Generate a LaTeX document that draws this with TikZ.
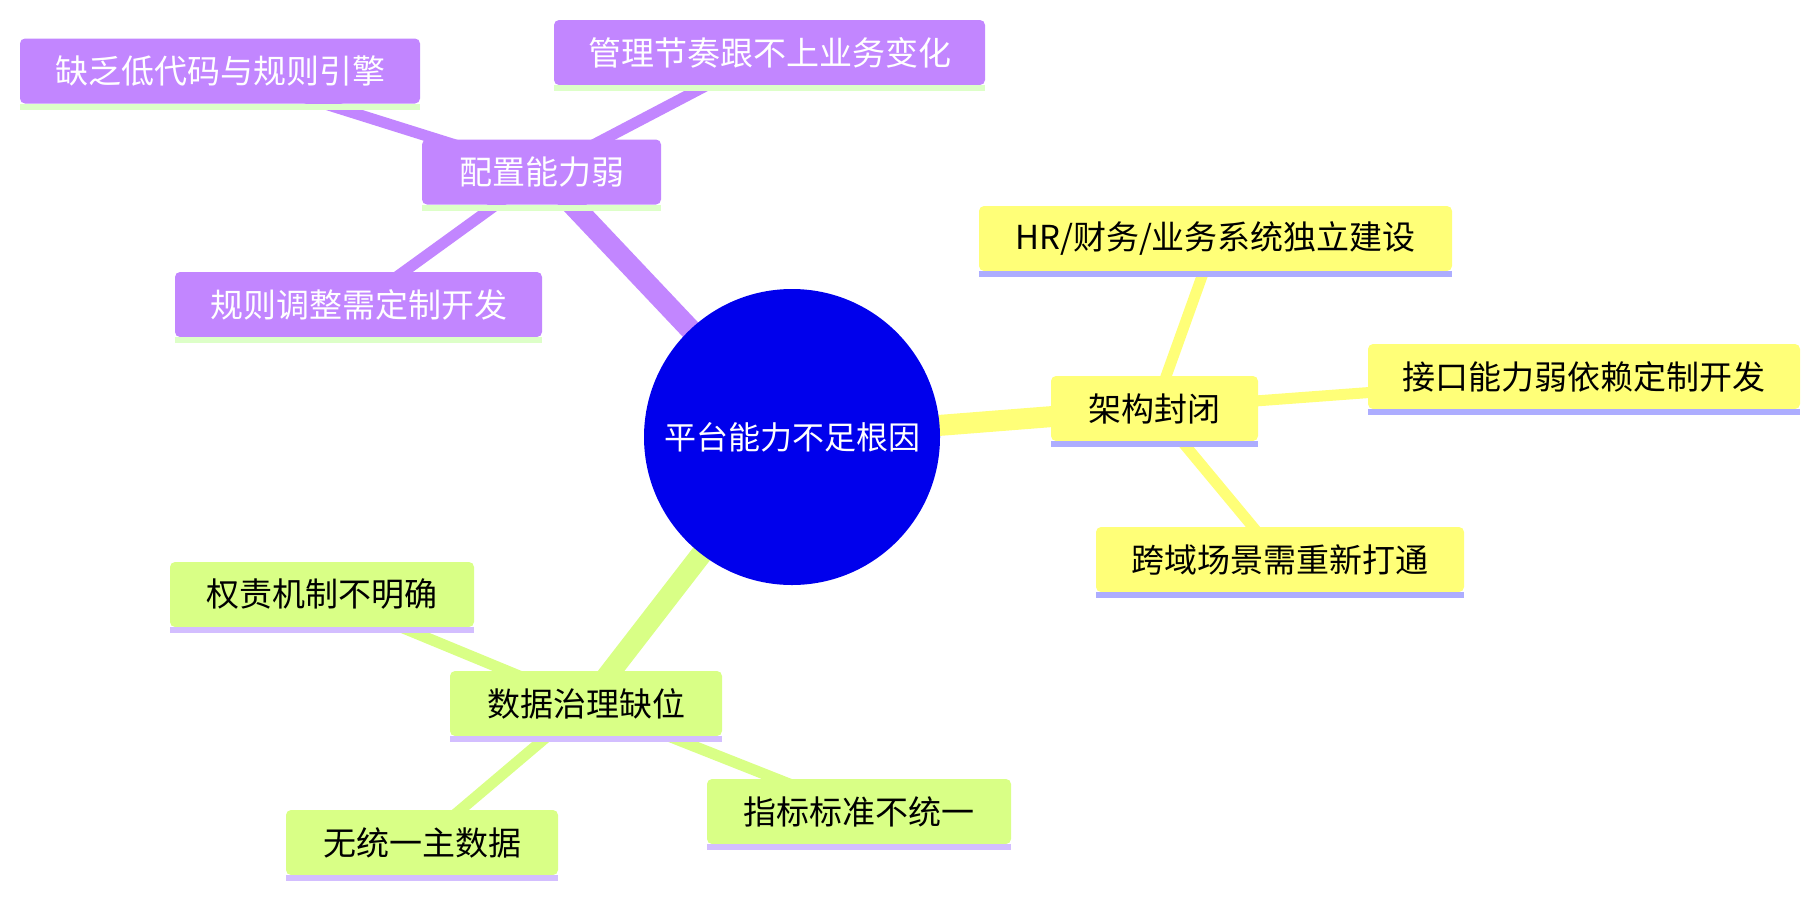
\documentclass[tikz,border=0pt]{standalone}
\usepackage{fontspec}
\setmainfont{Noto Sans CJK SC}
\usetikzlibrary{backgrounds}
\definecolor{rootblue}{RGB}{0,0,236}
\definecolor{cpurple}{RGB}{194,134,255}
\definecolor{cyellow}{RGB}{255,255,120}
\definecolor{cgreen}{RGB}{217,255,134}
\definecolor{ulpurple}{RGB}{221,255,200}
\definecolor{ulyellow}{RGB}{173,173,255}
\definecolor{ulgreen}{RGB}{211,190,255}
\newcommand{\nodeline}[2]{\fill[#2] (#1.south west) rectangle ([yshift=-6pt]#1.south east);}
\tikzset{
  rootnode/.style={circle, fill=rootblue, text=white, minimum size=296pt, inner sep=0pt,
    font=\fontsize{32pt}{38pt}\selectfont},
  mbox/.style={rectangle, rounded corners=5pt, minimum height=65pt, inner sep=0pt,
    font=\fontsize{33pt}{40pt}\selectfont},
  pbox/.style={mbox, fill=cpurple, text=white},
  ybox/.style={mbox, fill=cyellow, text=black},
  gbox/.style={mbox, fill=cgreen, text=black},
  mainedge/.style={line width=21pt},
  subedge/.style={line width=11pt},
}
\begin{document}
\begin{tikzpicture}[x=1pt,y=-1pt]
\useasboundingbox (0,0) rectangle (1819,897);
% root
\node[rootnode] (r) at (792,437) {平台能力不足根因};
% purple section
\node[pbox, minimum width=239pt] (p) at (541.5,172) {配置能力弱};
\node[pbox, minimum width=400pt] (p1) at (220,71) {缺乏低代码与规则引擎};
\node[pbox, minimum width=431pt] (p2) at (769.5,52.5) {管理节奏跟不上业务变化};
\node[pbox, minimum width=367pt] (p3) at (358.5,304.5) {规则调整需定制开发};
% yellow section
\node[ybox, minimum width=207pt] (y) at (1154.5,408.5) {架构封闭};
\node[ybox, minimum width=473pt] (y1) at (1215.5,238.5) {HR/财务/业务系统独立建设};
\node[ybox, minimum width=432pt] (y2) at (1584,376.5) {接口能力弱依赖定制开发};
\node[ybox, minimum width=368pt] (y3) at (1280,559.5) {跨域场景需重新打通};
% green section
\node[gbox, minimum width=272pt] (g) at (586,703.5) {数据治理缺位};
\node[gbox, minimum width=304pt] (g1) at (322,594.5) {权责机制不明确};
\node[gbox, minimum width=272pt] (g2) at (422,842.5) {无统一主数据};
\node[gbox, minimum width=304pt] (g3) at (859,811.5) {指标标准不统一};
% underlines
\nodeline{p}{ulpurple}\nodeline{p1}{ulpurple}\nodeline{p2}{ulpurple}\nodeline{p3}{ulpurple}
\nodeline{y}{ulyellow}\nodeline{y1}{ulyellow}\nodeline{y2}{ulyellow}\nodeline{y3}{ulyellow}
\nodeline{g}{ulgreen}\nodeline{g1}{ulgreen}\nodeline{g2}{ulgreen}\nodeline{g3}{ulgreen}
% edges
\begin{scope}[on background layer]
\draw[mainedge, cpurple] (r.center) -- (p.center);
\draw[subedge, cpurple] (p.center) -- (p1.center);
\draw[subedge, cpurple] (p.center) -- (p2.center);
\draw[subedge, cpurple] (p.center) -- (p3.center);
\draw[mainedge, cyellow] (r.center) -- (y.center);
\draw[subedge, cyellow] (y.center) -- (y1.center);
\draw[subedge, cyellow] (y.center) -- (y2.center);
\draw[subedge, cyellow] (y.center) -- (y3.center);
\draw[mainedge, cgreen] (r.center) -- (g.center);
\draw[subedge, cgreen] (g.center) -- (g1.center);
\draw[subedge, cgreen] (g.center) -- (g2.center);
\draw[subedge, cgreen] (g.center) -- (g3.center);
\end{scope}
\end{tikzpicture}
\end{document}
